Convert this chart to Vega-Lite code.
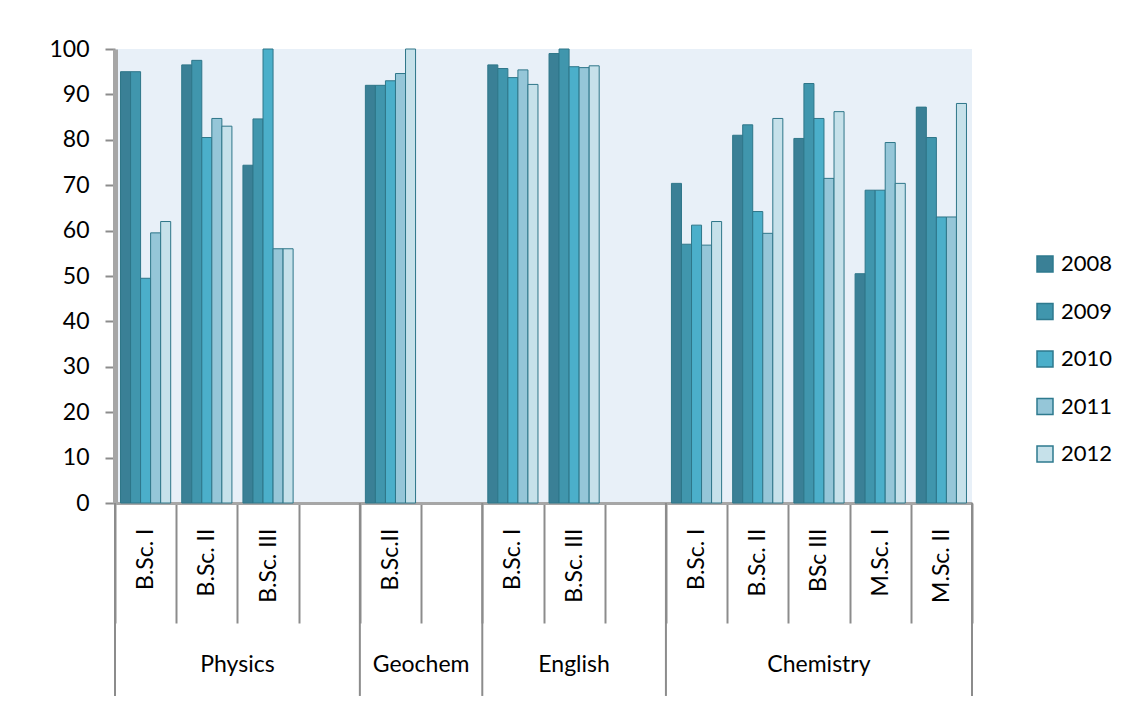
{
  "$schema": "https://vega.github.io/schema/vega-lite/v6.json",
  "autosize": {"type": "none"},
  "width": 857,
  "height": 454,
  "padding": {"left": 115, "top": 49, "right": 164, "bottom": 208},
  "background": "white",
  "config": {
    "view": {"fill": "#e8f0f8", "stroke": null},
    "font": "Lato"
  },
  "datasets": {
    "scores": [
      {"slot": "Physics|B.Sc. I", "year": "2008", "value": 95},
      {"slot": "Physics|B.Sc. I", "year": "2009", "value": 95},
      {"slot": "Physics|B.Sc. I", "year": "2010", "value": 49.5},
      {"slot": "Physics|B.Sc. I", "year": "2011", "value": 59.5},
      {"slot": "Physics|B.Sc. I", "year": "2012", "value": 62},
      {"slot": "Physics|B.Sc. II", "year": "2008", "value": 96.5},
      {"slot": "Physics|B.Sc. II", "year": "2009", "value": 97.5},
      {"slot": "Physics|B.Sc. II", "year": "2010", "value": 80.5},
      {"slot": "Physics|B.Sc. II", "year": "2011", "value": 84.7},
      {"slot": "Physics|B.Sc. II", "year": "2012", "value": 83},
      {"slot": "Physics|B.Sc. III", "year": "2008", "value": 74.4},
      {"slot": "Physics|B.Sc. III", "year": "2009", "value": 84.6},
      {"slot": "Physics|B.Sc. III", "year": "2010", "value": 100},
      {"slot": "Physics|B.Sc. III", "year": "2011", "value": 56},
      {"slot": "Physics|B.Sc. III", "year": "2012", "value": 56},
      {"slot": "Geochem|B.Sc.II", "year": "2008", "value": 92},
      {"slot": "Geochem|B.Sc.II", "year": "2009", "value": 92},
      {"slot": "Geochem|B.Sc.II", "year": "2010", "value": 93},
      {"slot": "Geochem|B.Sc.II", "year": "2011", "value": 94.6},
      {"slot": "Geochem|B.Sc.II", "year": "2012", "value": 100},
      {"slot": "English|B.Sc. I", "year": "2008", "value": 96.5},
      {"slot": "English|B.Sc. I", "year": "2009", "value": 95.7},
      {"slot": "English|B.Sc. I", "year": "2010", "value": 93.7},
      {"slot": "English|B.Sc. I", "year": "2011", "value": 95.4},
      {"slot": "English|B.Sc. I", "year": "2012", "value": 92.2},
      {"slot": "English|B.Sc. III", "year": "2008", "value": 99},
      {"slot": "English|B.Sc. III", "year": "2009", "value": 100},
      {"slot": "English|B.Sc. III", "year": "2010", "value": 96.1},
      {"slot": "English|B.Sc. III", "year": "2011", "value": 95.9},
      {"slot": "English|B.Sc. III", "year": "2012", "value": 96.3},
      {"slot": "Chemistry|B.Sc. I", "year": "2008", "value": 70.4},
      {"slot": "Chemistry|B.Sc. I", "year": "2009", "value": 57},
      {"slot": "Chemistry|B.Sc. I", "year": "2010", "value": 61.2},
      {"slot": "Chemistry|B.Sc. I", "year": "2011", "value": 56.8},
      {"slot": "Chemistry|B.Sc. I", "year": "2012", "value": 62},
      {"slot": "Chemistry|B.Sc. II", "year": "2008", "value": 81},
      {"slot": "Chemistry|B.Sc. II", "year": "2009", "value": 83.3},
      {"slot": "Chemistry|B.Sc. II", "year": "2010", "value": 64.2},
      {"slot": "Chemistry|B.Sc. II", "year": "2011", "value": 59.4},
      {"slot": "Chemistry|B.Sc. II", "year": "2012", "value": 84.7},
      {"slot": "Chemistry|BSc III", "year": "2008", "value": 80.3},
      {"slot": "Chemistry|BSc III", "year": "2009", "value": 92.4},
      {"slot": "Chemistry|BSc III", "year": "2010", "value": 84.7},
      {"slot": "Chemistry|BSc III", "year": "2011", "value": 71.5},
      {"slot": "Chemistry|BSc III", "year": "2012", "value": 86.2},
      {"slot": "Chemistry|M.Sc. I", "year": "2008", "value": 50.5},
      {"slot": "Chemistry|M.Sc. I", "year": "2009", "value": 68.9},
      {"slot": "Chemistry|M.Sc. I", "year": "2010", "value": 68.9},
      {"slot": "Chemistry|M.Sc. I", "year": "2011", "value": 79.4},
      {"slot": "Chemistry|M.Sc. I", "year": "2012", "value": 70.4},
      {"slot": "Chemistry|M.Sc. II", "year": "2008", "value": 87.2},
      {"slot": "Chemistry|M.Sc. II", "year": "2009", "value": 80.5},
      {"slot": "Chemistry|M.Sc. II", "year": "2010", "value": 63},
      {"slot": "Chemistry|M.Sc. II", "year": "2011", "value": 63},
      {"slot": "Chemistry|M.Sc. II", "year": "2012", "value": 88}
    ],
    "groupStarts": [
      {"slot": "Physics|B.Sc. I"},
      {"slot": "Geochem|B.Sc.II"},
      {"slot": "English|B.Sc. I"},
      {"slot": "Chemistry|B.Sc. I"}
    ],
    "groupEnd": [
      {"slot": "Chemistry|M.Sc. II"}
    ],
    "labelsEven": [
      {"slot": "Physics|B.Sc. III", "group": "Physics"},
      {"slot": "Geochem|", "group": "Geochem"}
    ],
    "labelsOdd": [
      {"slot": "English|B.Sc. III", "group": "English"},
      {"slot": "Chemistry|BSc III", "group": "Chemistry"}
    ]
  },
  "encoding": {
    "x": {
      "field": "slot",
      "type": "nominal",
      "sort": null,
      "scale": {
        "domain": [
          "Physics|B.Sc. I", "Physics|B.Sc. II", "Physics|B.Sc. III", "Physics|",
          "Geochem|B.Sc.II", "Geochem|",
          "English|B.Sc. I", "English|B.Sc. III", "English|",
          "Chemistry|B.Sc. I", "Chemistry|B.Sc. II", "Chemistry|BSc III", "Chemistry|M.Sc. I", "Chemistry|M.Sc. II"
        ],
        "paddingInner": 0,
        "paddingOuter": 0
      },
      "axis": {
        "title": null,
        "labelExpr": "split(datum.label, '|')[1]",
        "labelAngle": 270,
        "labelAlign": "right",
        "labelBaseline": "middle",
        "labelFont": "Lato",
        "labelFontSize": 23,
        "labelColor": "#000000",
        "labelPadding": -95,
        "labelOverlap": false,
        "labelBound": false,
        "labelFlush": false,
        "tickBand": "extent",
        "tickSize": 120,
        "tickWidth": 2,
        "tickColor": "#8c8c8c",
        "domainColor": "#a6a6a6",
        "domainWidth": 3,
        "grid": false
      }
    },
    "y": {
      "type": "quantitative",
      "scale": {"domain": [0, 100], "nice": false, "zero": true},
      "axis": {
        "title": null,
        "values": [0, 10, 20, 30, 40, 50, 60, 70, 80, 90, 100],
        "labelFont": "Lato",
        "labelFontSize": 23,
        "labelColor": "#000000",
        "labelPadding": 16,
        "tickSize": 10,
        "tickWidth": 2,
        "tickColor": "#8c8c8c",
        "domainColor": "#a6a6a6",
        "domainWidth": 5,
        "grid": false
      }
    }
  },
  "layer": [
    {
      "data": {"name": "scores"},
      "mark": {"type": "bar", "stroke": "#2e7689", "strokeWidth": 1},
      "encoding": {
        "y": {"field": "value", "type": "quantitative"},
        "xOffset": {
          "field": "year",
          "type": "nominal",
          "scale": {"paddingInner": 0, "paddingOuter": 0.55}
        },
        "color": {
          "field": "year",
          "type": "nominal",
          "scale": {
            "domain": ["2008", "2009", "2010", "2011", "2012"],
            "range": ["#3a8096", "#4096ad", "#4bafca", "#95c6d8", "#c6e1ea"]
          },
          "legend": {
            "title": null,
            "orient": "none",
            "legendX": 919,
            "legendY": 204,
            "symbolType": "square",
            "symbolSize": 256,
            "symbolStrokeColor": "#2e7a8e",
            "symbolStrokeWidth": 1.5,
            "labelFont": "Lato",
            "labelFontSize": 22,
            "labelColor": "#000000",
            "labelOffset": 5,
            "rowPadding": 25.5,
            "padding": 0
          }
        }
      }
    },
    {
      "data": {"name": "groupStarts"},
      "mark": {"type": "rule", "color": "#8c8c8c", "strokeWidth": 2},
      "encoding": {
        "x": {"field": "slot", "type": "nominal", "bandPosition": 0},
        "y": {"datum": 0},
        "y2": {"datum": -42.5}
      }
    },
    {
      "data": {"name": "groupEnd"},
      "mark": {"type": "rule", "color": "#8c8c8c", "strokeWidth": 2},
      "encoding": {
        "x": {"field": "slot", "type": "nominal", "bandPosition": 1},
        "y": {"datum": 0},
        "y2": {"datum": -42.5}
      }
    },
    {
      "data": {"name": "labelsEven"},
      "mark": {"type": "text", "font": "Lato", "fontSize": 23, "color": "#000000", "baseline": "middle", "align": "center"},
      "encoding": {
        "x": {"field": "slot", "type": "nominal", "bandPosition": 0},
        "y": {"datum": -35.7},
        "text": {"field": "group"}
      }
    },
    {
      "data": {"name": "labelsOdd"},
      "mark": {"type": "text", "font": "Lato", "fontSize": 23, "color": "#000000", "baseline": "middle", "align": "center"},
      "encoding": {
        "x": {"field": "slot", "type": "nominal", "bandPosition": 0.5},
        "y": {"datum": -35.7},
        "text": {"field": "group"}
      }
    }
  ]
}
